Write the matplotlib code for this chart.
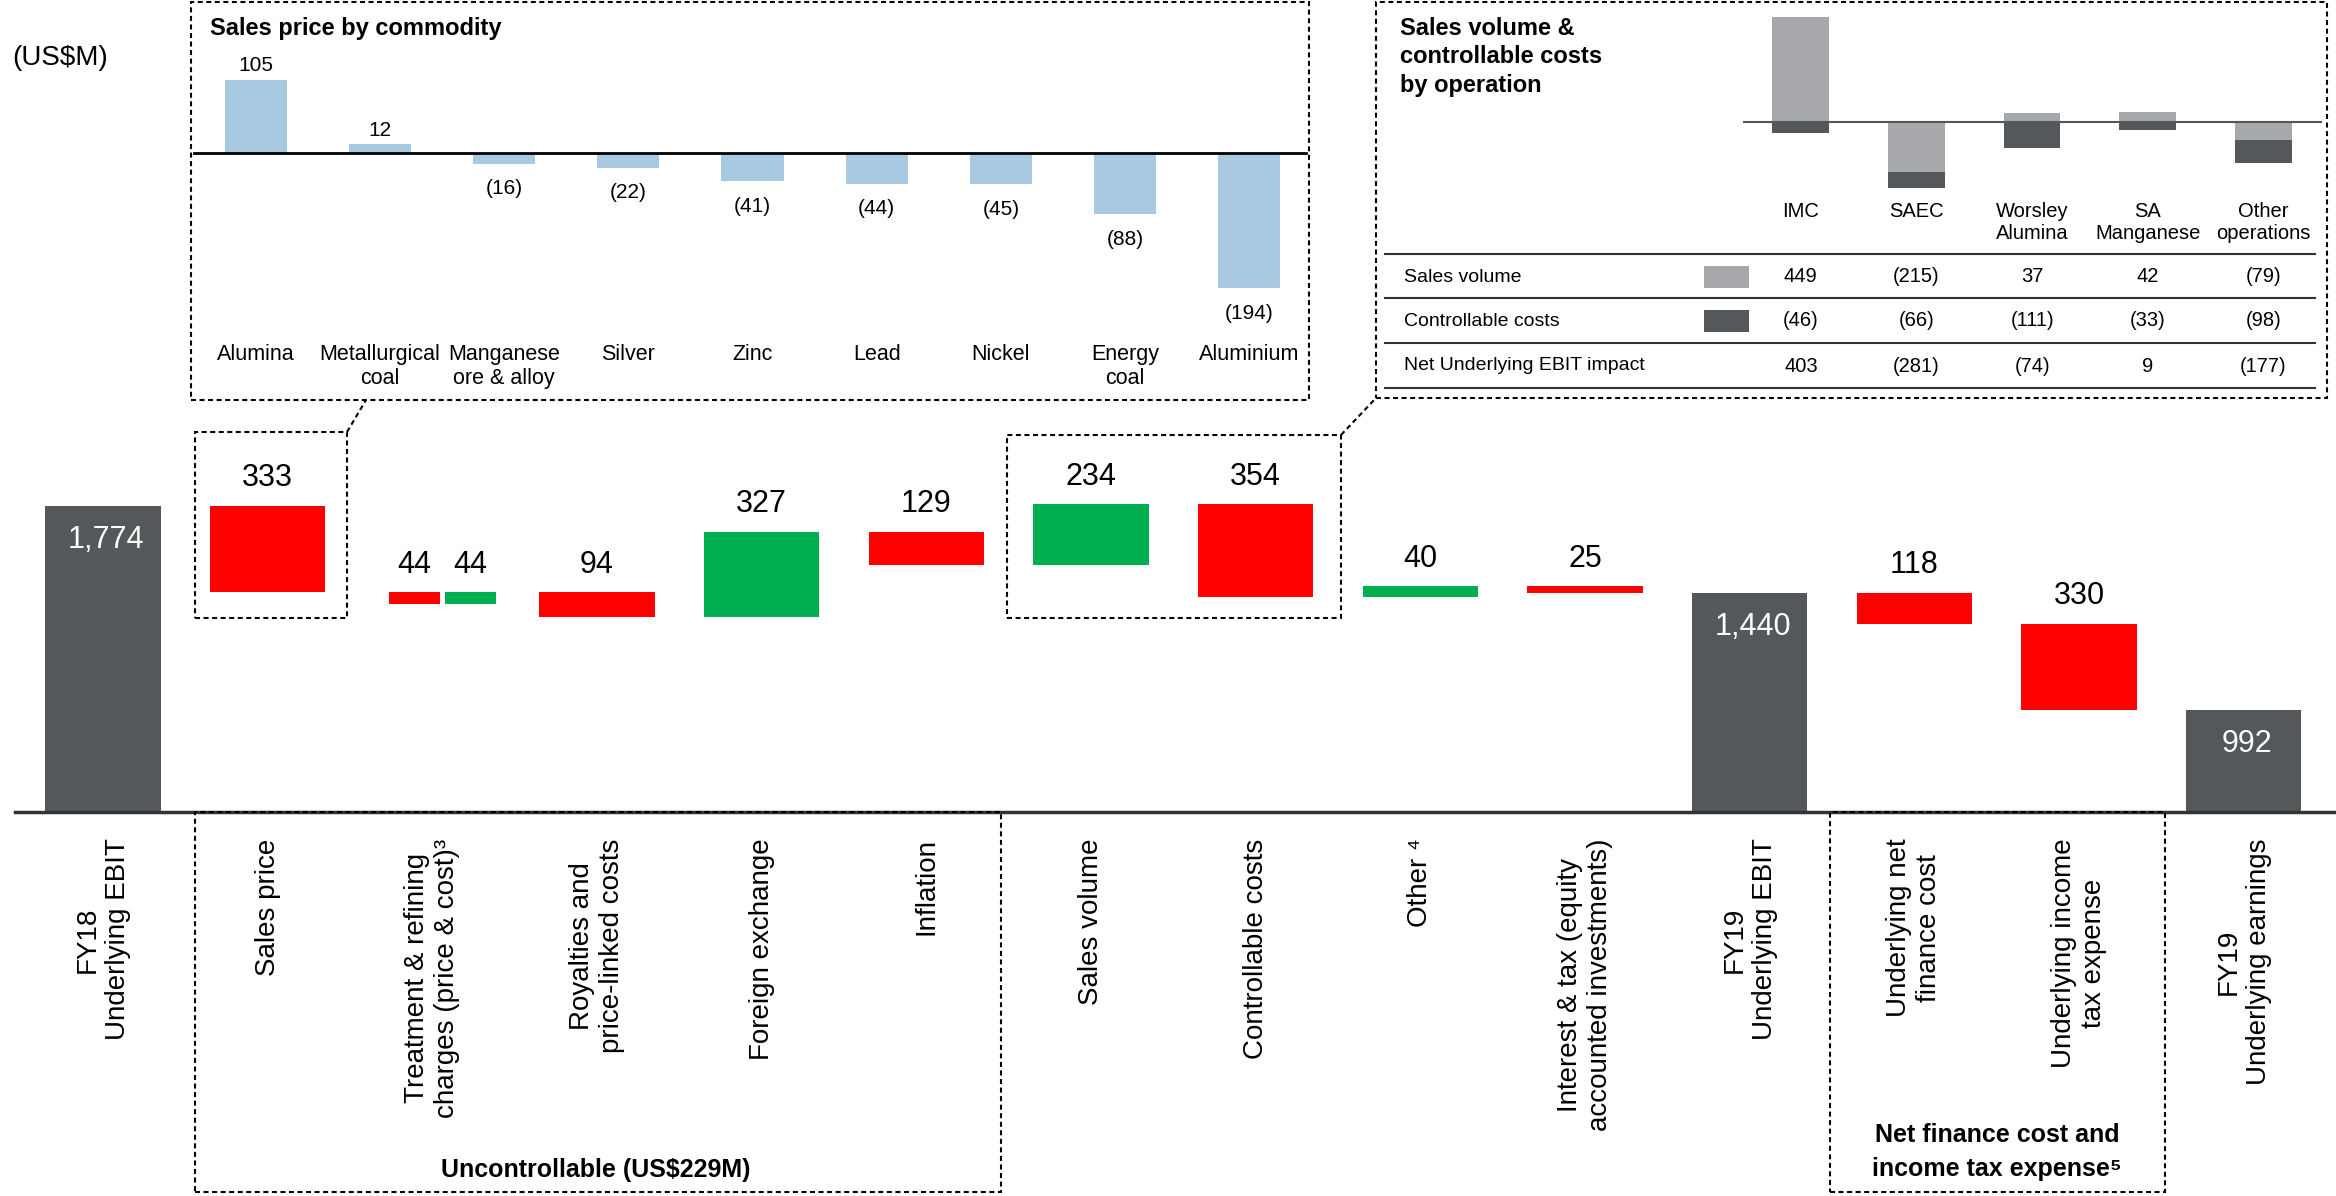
import numpy as np
import matplotlib
matplotlib.use("Agg")
import matplotlib.pyplot as plt
import matplotlib.transforms as mtransforms
from matplotlib.patches import Rectangle
from matplotlib.lines import Line2D

plt.rcParams['font.family'] = ['Liberation Sans', 'DejaVu Sans']

# ------------------------------------
# Data
# ------------------------------------

categories = ["FY18\nUnderlying EBIT", "Sales price",
              "Treatment & refining\ncharges (price & cost)³",
              "Royalties and\nprice-linked costs", "Foreign exchange", "Inflation",
              "Sales volume", "Controllable costs", "Other ⁴",
              "Interest & tax (equity\naccounted investments)",
              "FY19\nUnderlying EBIT", "Underlying net\nfinance cost",
              "Underlying income\ntax expense", "FY19\nUnderlying earnings"]

total_slots = [0, 10, 13]
total_values = [1774, 1440, 992]

# EBIT bridge steps (treatment & refining has a price and a cost part in slot 2)
ebit_changes = [-333, -44, 44, -94, 327, -129, 234, -354, 40, -25]
ebit_slots = [1, 2, 2, 3, 4, 5, 6, 7, 8, 9]

finance_changes = [-118, -330]
finance_slots = [11, 12]

commodities = ["Alumina", "Metallurgical\ncoal", "Manganese\nore & alloy", "Silver",
               "Zinc", "Lead", "Nickel", "Energy\ncoal", "Aluminium"]
commodity_price = [105, 12, -16, -22, -41, -44, -45, -88, -194]

operations = ["IMC", "SAEC", "Worsley\nAlumina", "SA\nManganese", "Other\noperations"]
op_sales_volume = [449, -215, 37, 42, -79]
op_controllable = [-46, -66, -111, -33, -98]

RED = "#FF0000"
GREEN = "#00B050"
DARK = "#54585A"
LIGHT_GREY = "#A6A8AB"
LIGHT_BLUE = "#A7C9E2"

W, H = 2336, 1196


def fx(px):
    return px / W


def fy(py):
    return 1 - py / H


def fmt(v):
    return f"({abs(v):,})" if v < 0 else f"{v:,}"


fig = plt.figure(figsize=(W / 100, H / 100), dpi=100)

# ------------------------------------
# Main waterfall
# ------------------------------------

ax = fig.add_axes([fx(15), fy(812), fx(2336) - fx(15), fy(420.5) - fy(812)])
ax.set_xlim(-0.534, 13.56)
ax.set_ylim(600, 2100)
ax.axis("off")

ax.bar(total_slots, total_values, width=0.7, color=DARK, linewidth=0)
for s, v in zip(total_slots, total_values):
    ax.annotate(fmt(v), (s, v), xytext=(2, -14), textcoords="offset points",
                ha="center", va="top", fontsize=22, color="white")


def draw_steps(values, slots, level):
    for k, (v, s) in enumerate(zip(values, slots)):
        n = slots.count(s)
        j = slots[:k].count(s)
        if n == 1:
            x, w = s, 0.7
        else:
            # split slot: two narrow bars side by side, pair nudged a little right
            x, w = s + 0.06 + (j - (n - 1) / 2) * 0.34, 0.31
        top = max(level, level + v)
        ax.bar(x, abs(v), bottom=min(level, level + v), width=w,
               color=RED if v < 0 else GREEN, linewidth=0)
        ax.annotate(f"{abs(v)}", (x, top), xytext=(0, 9), textcoords="offset points",
                    ha="center", va="bottom", fontsize=22)
        level += v
    return level


level = draw_steps(ebit_changes, ebit_slots, total_values[0])
level = draw_steps(finance_changes, finance_slots, level)

ax.axhline(600, color="#333333", lw=2.5, clip_on=False, zorder=5)

for i, label in enumerate(categories):
    ax.annotate(label, (i, 600), xytext=(0, -19), textcoords="offset points",
                rotation=90, ha="center", va="top", multialignment="center",
                fontsize=20)

fig.text(fx(12), fy(58), "(US$M)", fontsize=20, va="center", ha="left")

# dashed boxes and connectors
dash = (0, (2.4, 1.7))


def box(x0, y0, x1, y1):
    fig.add_artist(Rectangle((fx(x0), fy(y1)), fx(x1) - fx(x0), fy(y0) - fy(y1),
                             transform=fig.transFigure, fill=False, ec="black",
                             lw=1.5, ls=dash))


def connector(x0, y0, x1, y1):
    fig.add_artist(Line2D([fx(x0), fx(x1)], [fy(y0), fy(y1)], transform=fig.transFigure,
                          color="black", lw=1.5, ls=dash))


box(195, 812, 1001, 1192)
box(1830, 812, 2165, 1192)
box(195, 432, 347, 618)
box(1007, 435, 1341, 618)
box(191, 2, 1309, 400)
box(1376, 2, 2327, 398)
connector(347, 432, 366, 400)
connector(1341, 435, 1376, 398)

fig.text(fx(596), fy(1170), "Uncontrollable (US$229M)", fontsize=18, fontweight="bold",
         ha="center", va="center")
fig.text(fx(1997), fy(1152), "Net finance cost and\nincome tax expense⁵", fontsize=18,
         fontweight="bold", ha="center", va="center", linespacing=1.5)

# ------------------------------------
# Inset - sales price by commodity
# ------------------------------------

ax1 = fig.add_axes([fx(191), fy(400), fx(1309) - fx(191), fy(2) - fy(400)])
ax1.set_xlim(-0.52, 8.48)
ax1.set_ylim(-354, 216)
ax1.axis("off")

xs = np.arange(len(commodities))
ax1.bar(xs, commodity_price, width=0.5, color=LIGHT_BLUE, linewidth=0)
ax1.axhline(0, xmin=0.003, xmax=0.997, color="black", lw=2)
for x, v in zip(xs, commodity_price):
    if v >= 0:
        ax1.annotate(fmt(v), (x, v), xytext=(0, 3), textcoords="offset points",
                     ha="center", va="bottom", fontsize=15)
    else:
        ax1.annotate(fmt(v), (x, v), xytext=(0, -11), textcoords="offset points",
                     ha="center", va="top", fontsize=15)

t1 = mtransforms.blended_transform_factory(ax1.transData, fig.transFigure)
for x, name in zip(xs, commodities):
    ax1.text(x, fy(344), name, transform=t1, ha="center", va="top",
             multialignment="center", fontsize=15.5)

fig.text(fx(210), fy(17), "Sales price by commodity", fontsize=17, fontweight="bold",
         ha="left", va="top")

# ------------------------------------
# Inset - sales volume & controllable costs by operation
# ------------------------------------

ax2 = fig.add_axes([fx(1743), fy(198), fx(2327) - fx(1743), fy(2) - fy(198)])
ax2.set_xlim(-0.5, 4.55)
ax2.set_ylim(-326, 515)
ax2.axis("off")

xo = np.arange(len(operations))
sales = np.array(op_sales_volume)
costs = np.array(op_controllable)
ax2.bar(xo, sales, width=0.49, color=LIGHT_GREY, linewidth=0)
ax2.bar(xo, costs, bottom=np.minimum(sales, 0), width=0.49, color=DARK, linewidth=0)
ax2.axhline(0, xmin=0, xmax=0.99, color="#555555", lw=1.5)

t2 = mtransforms.blended_transform_factory(ax2.transData, fig.transFigure)
for x, name in zip(xo, operations):
    ax2.text(x, fy(202), name, transform=t2, ha="center", va="top",
             multialignment="center", fontsize=14.5)

fig.text(fx(1400), fy(17), "Sales volume &\ncontrollable costs\nby operation", fontsize=17,
         fontweight="bold", ha="left", va="top", linespacing=1.3)

# table below the bars
for yl in [254, 298, 343, 388]:
    fig.add_artist(Line2D([fx(1385), fx(2315)], [fy(yl), fy(yl)], transform=fig.transFigure,
                          color="#333333", lw=1.5))

row_names = ["Sales volume", "Controllable costs", "Net Underlying EBIT impact"]
row_values = [sales, costs, sales + costs]
row_y = [277, 321, 366]
for name, vals, yr in zip(row_names, row_values, row_y):
    fig.text(fx(1404), fy(yr), name, fontsize=14, ha="left", va="center")
    for x, v in zip(xo, vals):
        ax2.text(x, fy(yr), fmt(int(v)), transform=t2, ha="center", va="center", fontsize=14.5)

for colour, yr in zip([LIGHT_GREY, DARK], row_y[:2]):
    fig.add_artist(Rectangle((fx(1704), fy(yr + 11)), fx(1749) - fx(1704), fy(yr - 11) - fy(yr + 11),
                             transform=fig.transFigure, color=colour, lw=0))

plt.savefig("out.png", dpi=100)
plt.close()
